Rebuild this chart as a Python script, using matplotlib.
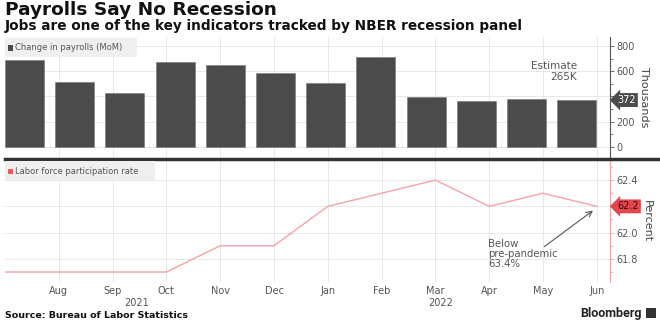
import matplotlib
matplotlib.use("Agg")
import matplotlib.pyplot as plt
import numpy as np
from matplotlib.lines import Line2D
from matplotlib.patches import Rectangle

# data
months = ["Jul", "Aug", "Sep", "Oct", "Nov", "Dec", "Jan", "Feb", "Mar", "Apr", "May", "Jun"]
payrolls = [689, 517, 424, 677, 647, 588, 504, 714, 398, 368, 384, 372]
participation = [61.7, 61.7, 61.7, 61.7, 61.9, 61.9, 62.2, 62.3, 62.4, 62.2, 62.3, 62.2]
payroll_ticks = [0, 200, 400, 600, 800]
rate_ticks = [61.8, 62.0, 62.2, 62.4]

W, H = 660, 325
grid_c = "#e8e8e8"
txt_c = "#555555"
bar_c = "#4b4b4b"
line_c = "#f4a3a6"
red_c = "#e3474d"

fig = plt.figure(figsize=(W / 100, H / 100), dpi=100)

def px_box(x0, y0, x1, y1):
    return [x0 / W, 1 - y1 / H, (x1 - x0) / W, (y1 - y0) / H]

ax1 = fig.add_axes(px_box(5, 37, 610, 158))
ax2 = fig.add_axes(px_box(5, 160, 610, 282), sharex=ax1)

pos = np.arange(len(months))
# bars are on a slightly tighter pitch than the line points
bar_pitch = 50.2 / 53.8
bar_w = 39 / 53.8
ax1.bar(pos * bar_pitch, payrolls, width=bar_w, align="edge", color=bar_c,
        edgecolor="#777777", linewidth=0.4, zorder=3)
ax1.set_xlim(0, 605 / 53.8)
ax1.set_ylim(-87, 871)

ax2.plot(pos, participation, color=line_c, lw=1.0, zorder=3)
ax2.set_ylim(61.624, 62.553)

for ax in (ax1, ax2):
    for s in ("left", "top", "bottom"):
        ax.spines[s].set_visible(False)
    ax.yaxis.tick_right()
    ax.yaxis.set_label_position("right")
    for k in range(1, 12):
        ax.axvline(k, color=grid_c, lw=0.7, zorder=0)
    ax.tick_params(axis="y", direction="out", length=3, width=0.6, labelsize=7,
                   labelcolor=txt_c, pad=1.5)
    ax.tick_params(axis="y", which="minor", direction="out", length=2, width=0.5)

ax1.set_yticks(payroll_ticks)
# the 400 label sits behind the latest-value tag
ax1.set_yticklabels(["" if v == 400 else str(v) for v in payroll_ticks])
ax1.set_yticks([100, 300, 500, 700], minor=True)
ax1.spines["right"].set_color("#555555")
ax1.tick_params(axis="y", which="both", color="#555555")
for v in payroll_ticks:
    ax1.axhline(v, color=grid_c, lw=0.7, zorder=0)
ax1.tick_params(axis="x", length=0, labelbottom=False)
ax1.set_ylabel("Thousands", rotation=-90, fontsize=8, color="#444444", labelpad=10)

ax2.set_yticks(rate_ticks)
ax2.set_yticklabels(["" if v == 62.2 else f"{v:.1f}" for v in rate_ticks])
ax2.set_yticks([61.7, 61.9, 62.1, 62.3, 62.5], minor=True)
ax2.spines["right"].set_color(line_c)
ax2.tick_params(axis="y", which="both", color=line_c)
for v in rate_ticks:
    ax2.axhline(v, color=grid_c, lw=0.7, zorder=0)
ax2.set_xticks(pos[1:])
ax2.set_xticklabels(months[1:])
ax2.tick_params(axis="x", length=0, labelsize=7, labelcolor=txt_c, pad=3)
ax2.set_ylabel("Percent", rotation=-90, fontsize=8, color="#444444", labelpad=10)

# year labels under the month ticks
ax2.text(2.45, -0.17, "2021", transform=ax2.get_xaxis_transform(), ha="center",
         va="center", fontsize=7, color=txt_c)
ax2.text(8.1, -0.17, "2022", transform=ax2.get_xaxis_transform(), ha="center",
         va="center", fontsize=7, color=txt_c)

# value tags on the right axes
ax1.text(1.012, payrolls[-1], f"{payrolls[-1]}", transform=ax1.get_yaxis_transform(),
         ha="left", va="center", fontsize=7, color="white", zorder=10,
         bbox=dict(boxstyle="larrow,pad=0.2", fc=bar_c, ec="none"))
ax2.text(1.012, participation[-1], f"{participation[-1]:.1f}",
         transform=ax2.get_yaxis_transform(), ha="left", va="center", fontsize=7,
         color="#3a0a0a", zorder=10,
         bbox=dict(boxstyle="larrow,pad=0.2", fc=red_c, ec="none"))

# annotations
ax1.text(10.63, 680, "Estimate\n265K", ha="right", va="top", fontsize=7.5,
         color=txt_c, linespacing=1.1, zorder=5)
ax2.annotate("", xy=(10.97, 62.18), xytext=(9.98, 61.88),
             arrowprops=dict(arrowstyle="->", color="#555555", lw=0.8))
ax2.text(8.98, 61.95, "Below\npre-pandemic\n63.4%", ha="left", va="top",
         fontsize=7.3, color=txt_c, linespacing=1.0)

# legend boxes
fig.patches.append(Rectangle((5 / W, 1 - 57 / H), 132 / W, 19 / H,
                             transform=fig.transFigure, fc="#efefef", ec="none", zorder=5))
fig.patches.append(Rectangle((8 / W, 1 - 50.5 / H), 5 / W, 5 / H,
                             transform=fig.transFigure, fc=bar_c, ec="none", zorder=6))
fig.text(15 / W, 1 - 48 / H, "Change in payrolls (MoM)", fontsize=6, color=txt_c,
         va="center", zorder=7)
fig.patches.append(Rectangle((5 / W, 1 - 180 / H), 150 / W, 19 / H,
                             transform=fig.transFigure, fc="#efefef", ec="none", zorder=5))
fig.patches.append(Rectangle((8 / W, 1 - 173.5 / H), 5 / W, 5 / H,
                             transform=fig.transFigure, fc="#f05a60", ec="none", zorder=6))
fig.text(15 / W, 1 - 171 / H, "Labor force participation rate", fontsize=6,
         color=txt_c, va="center", zorder=7)

# separator between the panels
fig.lines.append(Line2D([5 / W, 1], [1 - 159 / H, 1 - 159 / H], transform=fig.transFigure,
                        color="#333333", lw=2.5))

# titles and footer
fig.text(5 / W, 1 - 1 / H, "Payrolls Say No Recession", fontsize=13.3,
         fontweight="bold", va="top", color="#111111")
fig.text(5 / W, 1 - 19 / H, "Jobs are one of the key indicators tracked by NBER recession panel",
         fontsize=9.85, fontweight="bold", va="top", color="#111111")
fig.text(5 / W, 1 - 315 / H, "Source: Bureau of Labor Statistics", fontsize=6.8,
         fontweight="bold", va="center", color="#111111")
fig.text(642 / W, 1 - 313 / H, "Bloomberg", fontsize=9, fontweight="bold",
         family="Roboto", ha="right", va="center", color="#222222")
fig.patches.append(Rectangle((646 / W, 1 - 318 / H), 10 / W, 10 / H,
                             transform=fig.transFigure, fc="#333333", ec="none"))

fig.savefig("out.png", dpi=100)
